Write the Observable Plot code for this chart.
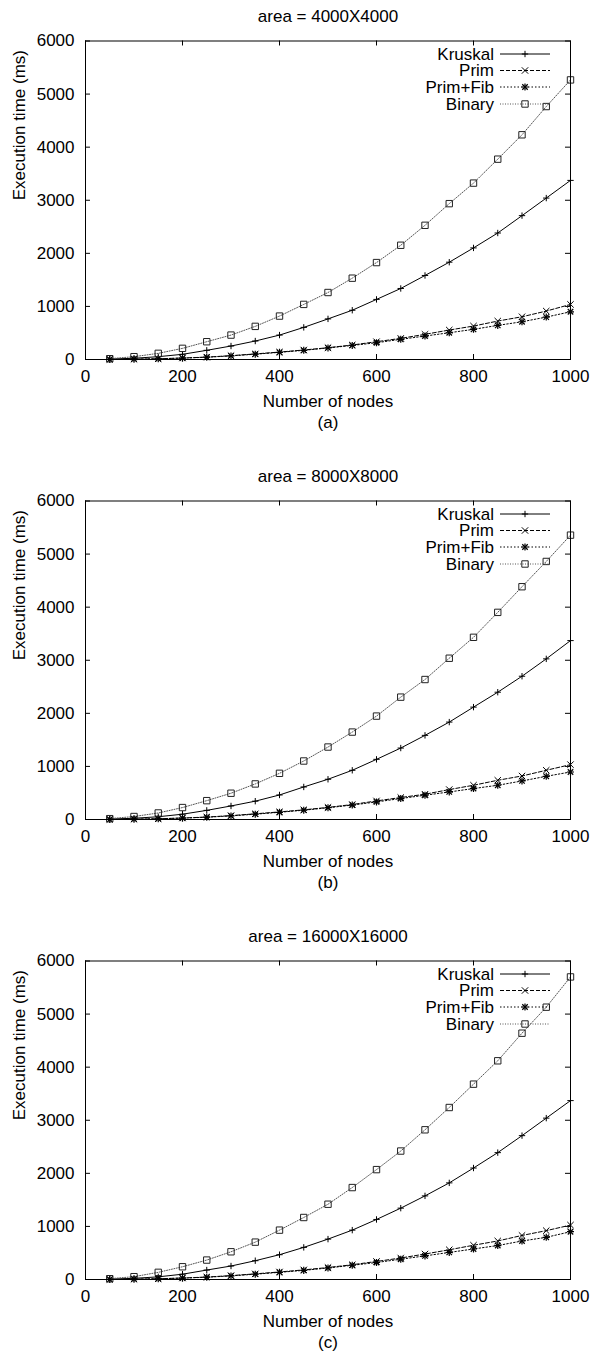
<!DOCTYPE html>
<html><head><meta charset="utf-8">
<script src="https://cdn.jsdelivr.net/npm/d3@7"></script>
<script src="https://cdn.jsdelivr.net/npm/@observablehq/plot@0.6"></script>
<style>
html,body{margin:0;padding:0;background:#fff;}
#chart{width:592px;}
#chart svg{display:block;overflow:visible;}
</style></head><body><div id="chart"></div>
<script>
const nodes = [50,100,150,200,250,300,350,400,450,500,550,600,650,700,750,800,850,900,950,1000];
const titles = ["area = 4000X4000", "area = 8000X8000", "area = 16000X16000"];
const captions = ["(a)", "(b)", "(c)"];
const seriesNames = ["Kruskal", "Prim", "Prim+Fib", "Binary"];
const xTicks = [0,200,400,600,800,1000];
const yTicks = [0,1000,2000,3000,4000,5000,6000];

// panel (a)
const kruskalA = [8,23,53,98,173,254,348,460,605,765,928,1132,1338,1583,1833,2102,2383,2710,3041,3374];
const primA    = [2,6,14,28,45,72,105,140,179,222,273,335,398,474,555,630,724,805,912,1038];
const fibA     = [2,6,13,26,43,68,100,135,173,218,265,316,380,442,504,568,643,711,799,899];
const binaryA  = [15,53,116,210,335,460,624,818,1038,1262,1532,1826,2152,2528,2936,3323,3774,4233,4765,5267];
// panel (b)
const kruskalB = [8,23,52,100,172,255,345,462,613,758,927,1133,1346,1585,1835,2117,2398,2699,3026,3370];
const primB    = [2,6,14,28,46,73,107,143,182,228,282,350,414,476,564,645,739,820,927,1034];
const fibB     = [2,6,13,26,43,68,100,136,175,221,272,331,395,457,519,583,645,726,814,895];
const binaryB  = [16,56,123,225,355,495,670,870,1102,1365,1647,1948,2305,2637,3038,3432,3902,4385,4861,5357];
// panel (c)
const kruskalC = [6,22,50,100,178,254,354,467,605,761,930,1131,1344,1575,1820,2100,2390,2710,3040,3370];
const primC    = [2,6,14,28,46,73,106,142,181,226,278,340,405,480,560,645,726,830,920,1025];
const fibC     = [2,6,13,26,43,68,100,135,172,217,268,320,382,445,510,575,640,725,795,900];
const binaryC  = [15,53,135,240,366,522,704,930,1168,1418,1732,2070,2420,2820,3240,3680,4120,4640,5130,5700];

const panels = [
  [kruskalA, primA, fibA, binaryA],
  [kruskalB, primB, fibB, binaryB],
  [kruskalC, primC, fibC, binaryC]
];
const heights = [460, 460, 433];

const FONT = "'Liberation Sans', Arial, Helvetica, sans-serif";
const FS = 17;
const styles = {
  "Kruskal":  {stroke: "#000", dash: null},
  "Prim":     {stroke: "#000", dash: "4,2"},
  "Prim+Fib": {stroke: "#000", dash: "1.5,2"},
  "Binary":   {stroke: "#555", dash: "1,1.5"}
};

const TOP = 40.5, BOTTOM = 359;
const chart = document.getElementById("chart");
const fmt = d => String(d);

panels.forEach((series, p) => {
  const H = heights[p];
  const rows = [];
  series.forEach((vals, s) => vals.forEach((v, i) => rows.push({series: seriesNames[s], n: nodes[i], t: v})));
  const sel = name => rows.filter(d => d.series === name);

  const marks = [
    Plot.axisY(yTicks, {tickSize: 0, tickPadding: 11, fontSize: FS, tickFormat: fmt, label: null}),
    Plot.axisX(xTicks, {tickSize: 0, tickPadding: 10, fontSize: FS, tickFormat: fmt, label: null}),
    // inward ticks (mirrored, gnuplot style)
    Plot.ruleX(xTicks, {x: d => d, y1: 0, y2: 94, stroke: "#000"}),
    Plot.ruleX(xTicks, {x: d => d, y1: 5906, y2: 6000, stroke: "#000"}),
    Plot.ruleY(yTicks, {y: d => d, x1: 0, x2: 10.3, stroke: "#000"}),
    Plot.ruleY(yTicks, {y: d => d, x1: 989.7, x2: 1000, stroke: "#000"}),
  ];
  for (const name of seriesNames) {
    const st = styles[name];
    marks.push(Plot.line(sel(name), {x: "n", y: "t", stroke: st.stroke, strokeWidth: 1, strokeDasharray: st.dash}));
  }
  marks.push(
    Plot.dot(sel("Kruskal"), {x: "n", y: "t", symbol: "plus", r: 2.2, stroke: "#000", strokeWidth: 1}),
    Plot.dot(sel("Prim"), {x: "n", y: "t", symbol: "times", r: 3, stroke: "#000", strokeWidth: 1}),
    Plot.dot(sel("Prim+Fib"), {x: "n", y: "t", symbol: "plus", r: 2.4, stroke: "#000", strokeWidth: 1.2}),
    Plot.dot(sel("Prim+Fib"), {x: "n", y: "t", symbol: "times", r: 2.6, stroke: "#000", strokeWidth: 1.2}),
    Plot.dot(sel("Binary"), {x: "n", y: "t", symbol: "square", r: 3.6, fill: "none", stroke: "#222", strokeWidth: 1}),
    Plot.frame({stroke: "#000", strokeWidth: 1}),
    Plot.text([titles[p]], {frameAnchor: "top", dy: -24, lineAnchor: "middle", fontSize: FS}),
    Plot.text(["Number of nodes"], {frameAnchor: "bottom", dy: 42, lineAnchor: "middle", fontSize: FS}),
    Plot.text([captions[p]], {frameAnchor: "bottom", dy: 63, lineAnchor: "middle", fontSize: FS}),
    Plot.text(["Execution time (ms)"], {frameAnchor: "left", dx: -66, rotate: -90, lineAnchor: "middle", fontSize: FS})
  );

  const svg = Plot.plot({
    width: 592,
    height: H,
    marginTop: TOP,
    marginBottom: H - BOTTOM,
    marginLeft: 85,
    marginRight: 22,
    x: {domain: [0, 1000]},
    y: {domain: [0, 6000]},
    style: {fontFamily: FONT, fontSize: FS + "px", color: "#000", background: "#fff", overflow: "visible"},
    marks
  });

  // legend (gnuplot-style, top right inside the frame)
  const g = d3.select(svg).append("g").attr("font-family", FONT).attr("font-size", FS);
  const rowY = [13.5, 30, 46.5, 63.5];
  seriesNames.forEach((name, i) => {
    const y = TOP + rowY[i];
    const st = styles[name];
    g.append("text").attr("x", 494).attr("y", y).attr("dy", "0.35em").attr("text-anchor", "end").attr("fill", "#000").text(name);
    g.append("line").attr("x1", 500).attr("x2", 550).attr("y1", y).attr("y2", y)
      .attr("stroke", st.stroke).attr("stroke-width", 1).attr("stroke-dasharray", st.dash);
    const sym = (type, r) => d3.symbol(type, Math.PI * r * r)();
    const add = (type, r, stroke, sw) => g.append("path").attr("d", sym(type, r))
      .attr("transform", `translate(525,${y})`).attr("fill", "none").attr("stroke", stroke).attr("stroke-width", sw);
    if (name === "Kruskal") add(d3.symbolPlus, 2.2, "#000", 1);
    if (name === "Prim") add(d3.symbolTimes, 3, "#000", 1);
    if (name === "Prim+Fib") { add(d3.symbolPlus, 2.4, "#000", 1.2); add(d3.symbolTimes, 2.6, "#000", 1.2); }
    if (name === "Binary") add(d3.symbolSquare, 3.6, "#222", 1);
  });

  chart.appendChild(svg);
});
</script>
</body></html>
